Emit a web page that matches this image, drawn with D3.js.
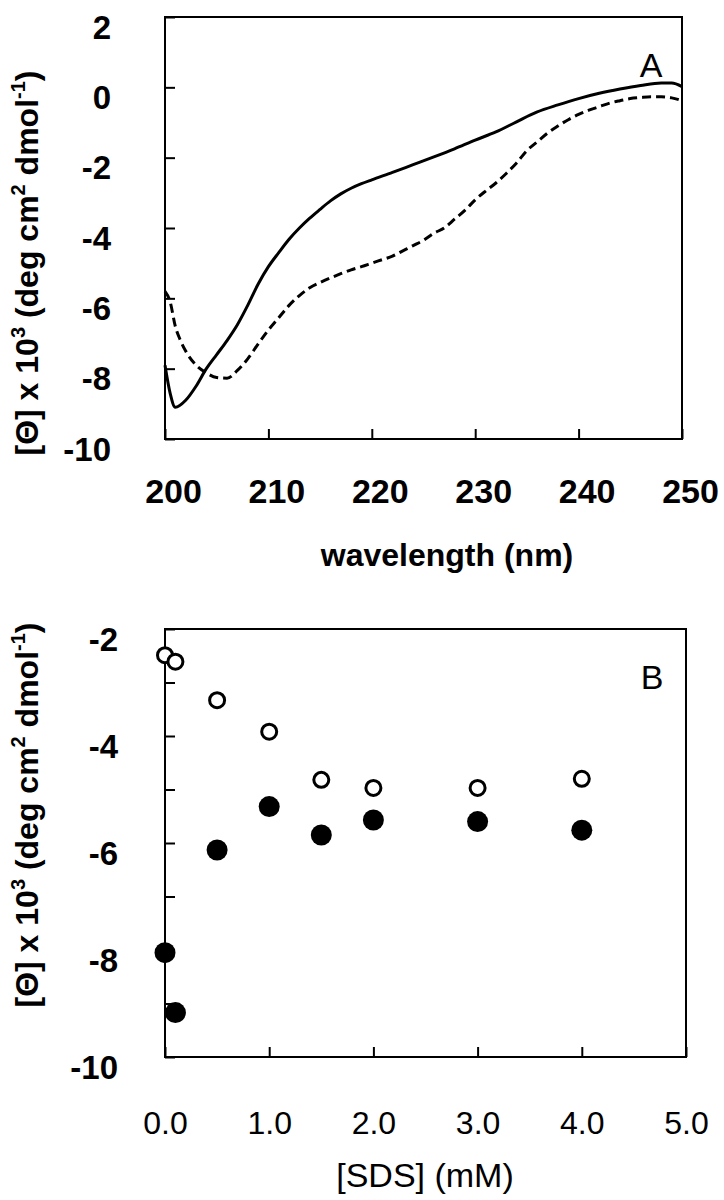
<!DOCTYPE html>
<html>
<head>
<meta charset="utf-8">
<script src="https://d3js.org/d3.v7.min.js"></script>
<style>
  body { margin: 0; background: #fff; }
  svg { display: block; font-family: "Liberation Sans", Arial, sans-serif; }
  .frame { fill: none; stroke: #000; stroke-width: 2; }
  .tick line { stroke: #000; stroke-width: 2; }
</style>
</head>
<body>
<svg width="724" height="1200"></svg>
<script>
// panel A: CD spectra, wavelength (nm) vs [Θ] x 10^3
const wavelength = [200, 200.5, 201, 202, 203, 204, 205, 206, 207, 208, 209, 210, 211, 212, 213, 214, 215,
  216, 217, 218, 219, 220, 222, 224, 226, 228, 230, 232, 234, 236, 238, 240, 242, 244, 246, 248, 249, 250];
const solidValues = [-7.9, -8.7, -9.1, -8.9, -8.5, -8.0, -7.6, -7.2, -6.75, -6.2, -5.6, -5.1, -4.7, -4.32, -4.0, -3.72, -3.47,
  -3.23, -3.03, -2.87, -2.74, -2.63, -2.42, -2.2, -1.98, -1.75, -1.5, -1.27, -0.98, -0.7, -0.5, -0.32, -0.17, -0.05, 0.05, 0.12, 0.12, 0.02];

const wavelengthDashed = [200, 200.5, 201, 201.5, 202, 203, 204, 205, 206, 207, 208, 209, 210, 211, 212, 213, 214, 215,
  216, 217, 218, 219, 220, 221, 222, 223, 224, 225, 226, 227, 228, 229, 230, 231, 232, 233, 234, 235,
  236, 237, 238, 239, 240, 241, 242, 243, 244, 245, 246, 247, 248, 249, 250];
const dashedValues = [-5.8, -6.1, -6.8, -7.2, -7.5, -7.9, -8.12, -8.25, -8.27, -8.05, -7.72, -7.3, -6.9, -6.55, -6.2, -5.92, -5.7, -5.55,
  -5.42, -5.3, -5.19, -5.1, -5.0, -4.9, -4.8, -4.65, -4.5, -4.35, -4.15, -4.0, -3.75, -3.5, -3.2, -2.95, -2.72, -2.45, -2.15, -1.8,
  -1.55, -1.3, -1.1, -0.92, -0.77, -0.65, -0.55, -0.45, -0.38, -0.32, -0.29, -0.27, -0.27, -0.3, -0.38];

const ticksA_x = [200, 210, 220, 230, 240, 250];
const ticksA_y = [2, 0, -2, -4, -6, -8, -10];

// panel B: [Θ] vs [SDS] (mM)
const sds = [0, 0.1, 0.5, 1.0, 1.5, 2.0, 3.0, 4.0];
const openValues = [-2.49, -2.61, -3.33, -3.92, -4.82, -4.97, -4.97, -4.8];
const filledValues = [-8.05, -9.17, -6.13, -5.32, -5.85, -5.57, -5.6, -5.76];

const ticksB_x = [0, 1, 2, 3, 4, 5];
const ticksB_y = [-2, -3, -4, -5, -6, -7, -8, -9, -10];

const svg = d3.select("svg");
const font = '"Liberation Sans", Arial, sans-serif';

// y axis title with superscripts, rotated
const yTitle = (g, cx, cy) => {
  const t = g.append("text")
    .attr("transform", `translate(${cx},${cy}) rotate(-90)`)
    .attr("text-anchor", "middle")
    .attr("font-size", 32)
    .attr("font-weight", "bold");
  const parts = [["[\u0398] x 10", 0], ["3", 1], [" (deg cm", 0], ["2", 1], [" dmol", 0], ["-1", 1], [")", 0]];
  let up = false;
  parts.forEach(([s, sup]) => {
    const ts = t.append("tspan").text(s);
    if (sup) { ts.attr("font-size", 20).attr("dy", -13); up = true; }
    else if (up) { ts.attr("dy", 13); up = false; }
  });
};

// ---------- panel A ----------
const xA = d3.scaleLinear().domain([200, 250]).range([165, 682]);
const yA = d3.scaleLinear().domain([-10, 2]).range([439, 17]);

const gA = svg.append("g");

gA.append("g")
  .attr("transform", `translate(0,${yA(-10)})`)
  .call(d3.axisBottom(xA).tickValues(ticksA_x).tickSize(-10).tickFormat(d3.format("d")))
  .call(g => g.select(".domain").remove())
  .call(g => g.selectAll("text")
    .attr("y", 64).attr("dy", 0).attr("dx", 8)
    .attr("font-size", 34).attr("font-weight", "bold").attr("font-family", font).attr("fill", "#000"));

gA.append("g")
  .attr("transform", `translate(${xA(200)},0)`)
  .call(d3.axisLeft(yA).tickValues(ticksA_y).tickSize(-10).tickPadding(54).tickFormat(d => String(d)))
  .call(g => g.select(".domain").remove())
  .call(g => g.selectAll("text")
    .attr("dy", "0.64em")
    .attr("font-size", 33).attr("font-weight", "bold").attr("font-family", font).attr("fill", "#000"));

const lineA = d3.line().x(d => xA(d[0])).y(d => yA(d[1])).curve(d3.curveMonotoneX);

gA.append("path")
  .datum(wavelength.map((w, i) => [w, solidValues[i]]))
  .attr("d", lineA)
  .attr("fill", "none").attr("stroke", "#000").attr("stroke-width", 3);

gA.append("path")
  .datum(wavelengthDashed.map((w, i) => [w, dashedValues[i]]))
  .attr("d", lineA)
  .attr("fill", "none").attr("stroke", "#000").attr("stroke-width", 3)
  .attr("stroke-dasharray", "9,5");

gA.append("rect").attr("class", "frame")
  .attr("x", xA(200)).attr("y", yA(2))
  .attr("width", xA(250) - xA(200)).attr("height", yA(-10) - yA(2));

gA.append("text").attr("x", 651).attr("y", 77).attr("text-anchor", "middle")
  .attr("font-size", 34).text("A");

gA.append("text").attr("x", 447).attr("y", 566).attr("text-anchor", "middle")
  .attr("font-size", 32).attr("font-weight", "bold").text("wavelength (nm)");

yTitle(gA, 38, 263);

// ---------- panel B ----------
const xB = d3.scaleLinear().domain([0, 5]).range([165, 686]);
const yB = d3.scaleLinear().domain([-10, -2]).range([1057, 629]);

const gB = svg.append("g");

gB.append("g")
  .attr("transform", `translate(0,${yB(-10)})`)
  .call(d3.axisBottom(xB).tickValues(ticksB_x).tickSize(-10).tickFormat(d3.format(".1f")))
  .call(g => g.select(".domain").remove())
  .call(g => g.selectAll("text")
    .attr("y", 77).attr("dy", 0)
    .attr("font-size", 32).attr("font-family", font).attr("fill", "#000"));

gB.append("g")
  .attr("transform", `translate(${xB(0)},0)`)
  .call(d3.axisLeft(yB).tickValues(ticksB_y).tickSize(-10).tickPadding(47)
    .tickFormat(d => d % 2 === 0 ? String(d) : ""))
  .call(g => g.select(".domain").remove())
  .call(g => g.selectAll("text")
    .attr("dy", "0.64em")
    .attr("font-size", 33).attr("font-weight", "bold").attr("font-family", font).attr("fill", "#000"));

gB.append("rect").attr("class", "frame")
  .attr("x", xB(0)).attr("y", yB(-2))
  .attr("width", xB(5) - xB(0)).attr("height", yB(-10) - yB(-2));

gB.selectAll(".filled")
  .data(sds.map((c, i) => [c, filledValues[i]]))
  .enter().append("circle")
  .attr("class", "filled")
  .attr("cx", d => xB(d[0])).attr("cy", d => yB(d[1]))
  .attr("r", 10.5).attr("fill", "#000");

gB.selectAll(".open")
  .data(sds.map((c, i) => [c, openValues[i]]))
  .enter().append("circle")
  .attr("class", "open")
  .attr("cx", d => xB(d[0])).attr("cy", d => yB(d[1]))
  .attr("r", 7.5).attr("fill", "#fff").attr("stroke", "#000").attr("stroke-width", 3);

gB.append("text").attr("x", 652).attr("y", 689).attr("text-anchor", "middle")
  .attr("font-size", 34).text("B");

gB.append("text").attr("x", 425).attr("y", 1187).attr("text-anchor", "middle")
  .attr("font-size", 34).text("[SDS] (mM)");

yTitle(gB, 38, 815);
</script>
</body>
</html>
